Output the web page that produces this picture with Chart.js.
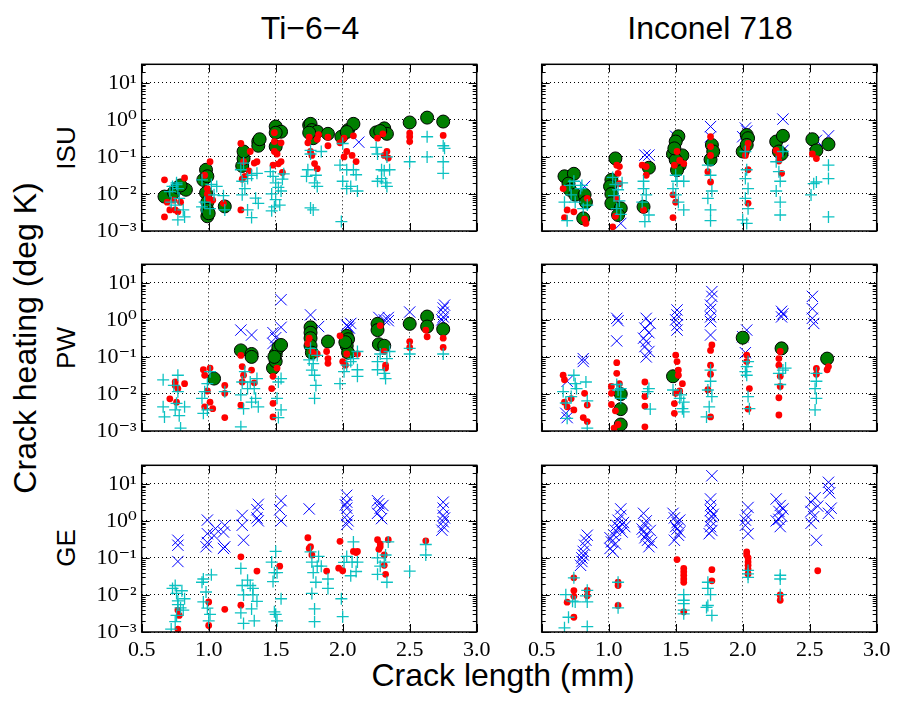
<!DOCTYPE html>
<html>
<head>
<meta charset="utf-8">
<script src="https://cdn.jsdelivr.net/npm/chart.js@4.4.0/dist/chart.umd.min.js"></script>
<style>
  html, body { margin: 0; padding: 0; background: #fff; }
  #fig { position: relative; width: 897px; height: 701px; overflow: hidden; font-family: "Liberation Sans", Arial, sans-serif; color: #000; }
  #fig canvas { position: absolute; }
  .lbl { position: absolute; white-space: nowrap; transform: translate(-50%, -50%); line-height: 1; }
  .rot { transform: translate(-50%, -50%) rotate(-90deg); }
</style>
</head>
<body>
<div id="fig">
  <div class="lbl" style="left:310px; top:28px; font-size:32px;">Ti−6−4</div>
  <div class="lbl" style="left:710px; top:28px; font-size:32px;">Inconel 718</div>
  <div class="lbl rot" style="left:25px; top:338px; font-size:32px;">Crack heating (deg K)</div>
  <div class="lbl" style="left:503px; top:675px; font-size:32px;">Crack length (mm)</div>
  <div class="lbl rot" style="left:66px; top:148px; font-size:26px;">ISU</div>
  <div class="lbl rot" style="left:66px; top:348px; font-size:26px;">PW</div>
  <div class="lbl rot" style="left:66px; top:548px; font-size:26px;">GE</div>
</div>
<script>
// axis ticks
const xTicks = [0.5, 1.0, 1.5, 2.0, 2.5, 3.0]
const yTickValues = [1e-3, 1e-2, 1e-1, 1, 10]
const yTickLabels = ["10⁻³", "10⁻²", "10⁻¹", "10⁰", "10¹"]

// Ti-6-4 / ISU
const tiIsuGreen = [[0.67,0.0085],[0.74,0.011],[0.77,0.015],[0.83,0.013],[0.79,0.017],[0.96,0.024],[0.98,0.045],[0.99,0.03],[0.98,0.0107],[0.99,0.006],[0.99,0.0037],[0.99,0.0025],[1.0,0.003],[1.12,0.0046],[1.25,0.057],[1.26,0.09],[1.26,0.14],[1.37,0.26],[1.37,0.2],[1.38,0.3],[1.5,0.66],[1.54,0.48],[1.5,0.19],[1.5,0.45],[1.75,0.72],[1.76,0.78],[1.77,0.53],[1.81,0.48],[1.78,0.32],[1.75,0.45],[1.89,0.42],[1.99,0.35],[2.04,0.53],[2.08,0.78],[2.03,0.47],[2.25,0.46],[2.31,0.59],[2.33,0.42],[2.28,0.5],[2.5,0.85],[2.63,1.15],[2.75,0.9]]
const tiIsuRed = [[0.67,0.024],[0.67,0.0024],[0.69,0.006],[0.71,0.0037],[0.74,0.0068],[0.75,0.0037],[0.77,0.0033],[0.82,0.027],[0.79,0.006],[1.01,0.074],[0.97,0.032],[0.99,0.014],[1.0,0.0075],[1.03,0.0068],[0.99,0.01],[1.11,0.0056],[1.24,0.23],[1.25,0.025],[1.26,0.074],[1.27,0.03],[1.24,0.0037],[1.31,0.14],[1.34,0.068],[1.3,0.042],[1.36,0.074],[1.49,0.45],[1.49,0.26],[1.51,0.12],[1.52,0.065],[1.48,0.06],[1.54,0.24],[1.54,0.075],[1.49,0.14],[1.55,0.038],[1.74,0.24],[1.75,0.34],[1.77,0.11],[1.79,0.066],[1.81,0.048],[1.81,0.3],[1.82,0.4],[1.89,0.34],[1.89,0.2],[1.76,0.14],[1.98,0.24],[2.01,0.32],[2.03,0.14],[2.07,0.11],[2.1,0.075],[2.08,0.37],[2.01,0.1],[2.26,0.32],[2.3,0.42],[2.33,0.14],[2.34,0.093],[2.31,0.11],[2.5,0.35],[2.5,0.26],[2.5,0.44],[2.75,0.38]]
const tiIsuCyan = [[0.71,0.0116],[0.73,0.016],[0.76,0.018],[0.77,0.014],[0.78,0.0076],[0.77,0.002],[0.82,0.0024],[0.81,0.0037],[0.75,0.005],[0.72,0.006],[0.76,0.02],[0.95,0.0045],[0.97,0.006],[1.01,0.004],[1.02,0.018],[1.04,0.0095],[1.06,0.016],[0.95,0.024],[1.11,0.009],[1.12,0.0037],[1.24,0.045],[1.26,0.068],[1.25,0.0095],[1.27,0.014],[1.29,0.026],[1.32,0.032],[1.36,0.036],[1.37,0.0056],[1.35,0.0077],[1.32,0.0023],[1.29,0.0037],[1.25,0.022],[1.46,0.04],[1.48,0.03],[1.5,0.02],[1.52,0.015],[1.47,0.01],[1.5,0.007],[1.53,0.005],[1.47,0.0035],[1.55,0.025],[1.54,0.012],[1.56,0.035],[1.49,0.0045],[1.74,0.045],[1.76,0.12],[1.79,0.02],[1.81,0.016],[1.8,0.032],[1.84,0.14],[1.76,0.0042],[1.78,0.0037],[1.76,0.15],[1.73,0.03],[2.0,0.23],[1.98,0.06],[2.03,0.045],[2.0,0.022],[2.03,0.014],[2.06,0.016],[2.11,0.012],[2.1,0.033],[1.99,0.0018],[2.08,0.045],[2.25,0.18],[2.26,0.12],[2.29,0.045],[2.29,0.026],[2.31,0.042],[2.33,0.1],[2.35,0.045],[2.33,0.016],[2.26,0.022],[2.32,0.02],[2.5,0.074],[2.63,0.35],[2.63,0.1],[2.75,0.2],[2.75,0.074],[2.75,0.036],[2.76,0.17]]
const tiIsuBlue = [[2.12,0.25],[1.76,0.75]]

// Inconel 718 / ISU
const inIsuGreen = [[0.67,0.03],[0.74,0.035],[0.7,0.019],[0.71,0.013],[0.75,0.0095],[0.82,0.0095],[0.83,0.006],[0.81,0.0022],[1.05,0.091],[1.02,0.024],[1.01,0.016],[1.02,0.01],[1.02,0.0056],[1.09,0.0041],[1.07,0.0027],[1.3,0.051],[1.26,0.0045],[1.52,0.36],[1.5,0.26],[1.55,0.11],[1.48,0.12],[1.53,0.06],[1.51,0.044],[1.5,0.083],[1.49,0.17],[1.77,0.21],[1.76,0.085],[1.78,0.14],[2.03,0.39],[2.04,0.32],[2.0,0.14],[2.03,0.21],[2.25,0.26],[2.3,0.37],[2.29,0.12],[2.27,0.14],[2.52,0.3],[2.55,0.15],[2.64,0.22]]
const inIsuRed = [[0.69,0.0037],[0.67,0.0023],[0.74,0.0033],[0.82,0.0021],[0.83,0.0016],[0.66,0.014],[0.84,0.0076],[1.06,0.06],[1.08,0.055],[1.07,0.036],[1.08,0.019],[1.06,0.0076],[1.05,0.0025],[1.03,0.0013],[1.25,0.06],[1.28,0.055],[1.28,0.032],[1.26,0.0037],[1.51,0.14],[1.53,0.08],[1.56,0.066],[1.49,0.06],[1.48,0.0095],[1.48,0.0023],[1.5,0.006],[1.76,0.35],[1.76,0.19],[1.76,0.11],[1.74,0.04],[1.76,0.021],[2.04,0.23],[2.03,0.17],[2.04,0.045],[2.04,0.0056],[2.02,0.11],[2.25,0.15],[2.27,0.077],[2.29,0.036],[2.27,0.11],[2.52,0.12],[2.55,0.09]]
const inIsuCyan = [[0.67,0.006],[0.69,0.0019],[0.71,0.017],[0.72,0.0094],[0.75,0.006],[0.79,0.014],[0.8,0.017],[0.81,0.004],[0.84,0.005],[0.74,0.022],[1.03,0.028],[1.05,0.018],[1.07,0.013],[1.04,0.009],[1.08,0.0065],[1.06,0.004],[1.09,0.0028],[1.1,0.02],[1.26,0.014],[1.28,0.0095],[1.25,0.006],[1.3,0.0027],[1.27,0.0018],[1.26,0.022],[1.48,0.014],[1.51,0.022],[1.5,0.0094],[1.52,0.006],[1.56,0.022],[1.56,0.0037],[1.5,0.032],[1.74,0.06],[1.76,0.032],[1.77,0.012],[1.74,0.0076],[1.76,0.0037],[1.76,0.0019],[2.02,0.14],[2.03,0.045],[2.02,0.026],[2.04,0.014],[2.02,0.0076],[2.04,0.004],[2.0,0.002],[2.03,0.0016],[2.25,0.074],[2.27,0.04],[2.28,0.022],[2.25,0.012],[2.28,0.006],[2.28,0.0027],[2.3,0.14],[2.53,0.019],[2.51,0.0094],[2.64,0.06],[2.64,0.026],[2.64,0.0024],[2.55,0.021]]
const inIsuBlue = [[0.82,0.016],[1.09,0.0016],[1.27,0.112],[1.3,0.112],[1.5,0.36],[1.76,0.66],[1.76,0.35],[2.02,0.6],[2.0,0.35],[2.03,0.5],[2.3,1.05],[2.3,0.15],[2.55,0.28],[2.64,0.37]]

// Ti-6-4 / PW
const tiPwGreen = [[1.04,0.026],[1.24,0.15],[1.32,0.12],[1.32,0.1],[1.48,0.05],[1.5,0.076],[1.5,0.12],[1.52,0.18],[1.54,0.21],[1.49,0.1],[1.76,0.63],[1.76,0.45],[1.76,0.32],[1.76,0.2],[1.77,0.13],[1.89,0.26],[2.03,0.37],[2.04,0.3],[2.03,0.2],[2.04,0.13],[2.02,0.25],[2.26,0.78],[2.26,0.53],[2.27,0.22],[2.31,0.2],[2.5,0.78],[2.63,1.23],[2.63,0.66],[2.75,0.56]]
const tiPwRed = [[0.71,0.0074],[0.75,0.021],[0.75,0.017],[0.82,0.019],[0.76,0.006],[0.77,0.014],[0.96,0.045],[0.97,0.032],[1.01,0.05],[0.99,0.012],[0.97,0.0045],[1.03,0.004],[1.01,0.006],[1.12,0.017],[1.12,0.0104],[1.12,0.0023],[1.24,0.11],[1.25,0.055],[1.26,0.032],[1.24,0.005],[1.25,0.021],[1.32,0.044],[1.34,0.02],[1.48,0.03],[1.47,0.014],[1.48,0.0056],[1.48,0.0024],[1.51,0.05],[1.75,0.32],[1.74,0.23],[1.77,0.14],[1.81,0.12],[1.88,0.14],[1.89,0.09],[1.89,0.067],[1.98,0.37],[2.0,0.075],[2.02,0.06],[2.03,0.12],[2.11,0.12],[2.28,0.7],[2.31,0.14],[2.32,0.06],[2.32,0.05],[2.5,0.26],[2.5,0.18],[2.62,0.53],[2.63,0.35],[2.75,0.32],[2.75,0.18]]
const tiPwCyan = [[0.66,0.024],[0.66,0.0045],[0.67,0.0024],[0.74,0.017],[0.77,0.032],[0.77,0.0115],[0.76,0.0056],[0.78,0.0026],[0.79,0.0012],[0.82,0.0045],[0.75,0.0037],[0.95,0.0076],[0.97,0.0115],[0.99,0.019],[1.01,0.04],[0.99,0.0037],[0.96,0.003],[1.12,0.0115],[1.24,0.0094],[1.25,0.021],[1.26,0.004],[1.27,0.04],[1.24,0.0013],[1.29,0.014],[1.31,0.021],[1.34,0.014],[1.36,0.026],[1.35,0.0076],[1.37,0.0045],[1.32,0.006],[1.52,0.021],[1.54,0.026],[1.51,0.0076],[1.54,0.0037],[1.52,0.0023],[1.75,0.083],[1.78,0.066],[1.77,0.044],[1.79,0.032],[1.8,0.017],[1.79,0.0076],[1.81,0.11],[1.76,0.17],[1.98,0.019],[2.01,0.04],[2.03,0.06],[2.06,0.075],[2.08,0.09],[2.11,0.045],[2.11,0.03],[2.11,0.14],[2.26,0.075],[2.26,0.045],[2.28,0.12],[2.31,0.036],[2.32,0.026],[2.33,0.09],[2.35,0.14],[2.5,0.17],[2.5,0.12],[2.75,0.12]]
const tiPwBlue = [[1.24,0.53],[1.32,0.39],[1.48,0.45],[1.5,0.33],[1.54,0.63],[1.54,3.5],[1.48,0.23],[1.76,1.36],[1.82,0.66],[2.03,0.72],[2.04,0.65],[2.05,0.6],[2.06,0.8],[2.27,1.16],[2.31,1.0],[2.34,1.16],[2.34,0.95],[2.5,1.63],[2.75,2.1],[2.75,1.6],[2.75,1.2],[2.75,0.9],[2.74,1.0],[2.76,2.5]]

// Inconel 718 / PW
const inPwGreen = [[1.09,0.0099],[1.09,0.0039],[1.09,0.0015],[1.48,0.03],[2.0,0.33],[2.29,0.17],[2.63,0.09]]
const inPwRed = [[0.66,0.032],[0.67,0.024],[0.67,0.006],[0.69,0.0045],[0.72,0.0075],[0.74,0.0037],[0.81,0.0023],[0.82,0.0104],[0.84,0.005],[0.84,0.0018],[1.06,0.07],[1.06,0.036],[1.08,0.019],[1.02,0.016],[1.02,0.0104],[1.02,0.0052],[1.05,0.0035],[1.04,0.0012],[1.07,0.0015],[1.27,0.021],[1.27,0.0085],[1.27,0.0047],[1.27,0.0013],[1.5,0.112],[1.51,0.075],[1.52,0.044],[1.52,0.032],[1.5,0.0104],[1.49,0.0055],[1.49,0.003],[1.55,0.019],[1.53,0.012],[1.77,0.21],[1.76,0.15],[1.76,0.06],[1.76,0.034],[1.74,0.013],[1.76,0.0024],[2.03,0.112],[2.03,0.075],[2.05,0.014],[2.04,0.0039],[2.28,0.14],[2.27,0.09],[2.27,0.06],[2.28,0.03],[2.28,0.016],[2.27,0.0079],[2.27,0.0027],[2.55,0.049],[2.55,0.034],[2.64,0.055],[2.63,0.045]]
const inPwCyan = [[0.66,0.0116],[0.68,0.0057],[0.69,0.0022],[0.74,0.032],[0.75,0.019],[0.76,0.014],[0.83,0.021],[0.84,0.0065],[0.84,0.0012],[0.72,0.0085],[1.06,0.018],[1.07,0.0128],[1.09,0.0076],[1.09,0.014],[1.3,0.014],[1.31,0.0039],[1.29,0.0115],[1.48,0.0128],[1.54,0.0094],[1.56,0.006],[1.55,0.004],[1.56,0.0033],[1.53,0.0076],[1.74,0.0128],[1.76,0.022],[1.76,0.044],[1.77,0.0085],[1.75,0.0045],[1.73,0.0024],[2.04,0.075],[2.03,0.055],[2.02,0.04],[2.04,0.0085],[2.05,0.004],[2.03,0.032],[2.27,0.036],[2.3,0.044],[2.32,0.05],[2.28,0.018],[2.55,0.036],[2.54,0.014],[2.55,0.0076],[2.54,0.0037],[2.55,0.022]]
const inPwBlue = [[0.81,0.09],[0.81,0.075],[0.69,0.022],[0.69,0.0023],[0.68,0.003],[1.06,1.1],[1.07,0.95],[1.06,0.27],[1.28,1.1],[1.27,0.6],[1.3,0.45],[1.28,0.26],[1.27,0.19],[1.3,0.14],[1.28,0.1],[1.26,0.32],[1.31,0.8],[1.51,1.85],[1.51,1.36],[1.5,1.0],[1.51,0.72],[1.51,0.53],[1.77,5.8],[1.77,4.3],[1.76,2.5],[1.76,1.9],[1.76,1.2],[1.76,0.9],[1.76,0.39],[2.03,0.53],[2.0,0.35],[2.02,0.13],[2.29,1.7],[2.29,1.2],[2.3,1.45],[2.52,4.3],[2.52,2.0],[2.52,1.1],[2.53,0.8]]

// Ti-6-4 / GE
const tiGeGreen = []
const tiGeRed = [[0.77,0.0039],[0.78,0.0028],[0.77,0.0012],[1.0,0.0065],[1.0,0.0015],[1.12,0.0041],[1.24,0.107],[1.24,0.0053],[1.36,0.044],[1.53,0.06],[1.74,0.35],[1.75,0.18],[1.76,0.2],[1.77,0.12],[1.88,0.044],[1.98,0.28],[1.97,0.053],[2.0,0.045],[2.08,0.15],[2.11,0.15],[2.1,0.14],[2.26,0.31],[2.28,0.24],[2.28,0.2],[2.31,0.12],[2.31,0.063],[2.32,0.036],[2.34,0.31],[2.27,0.17],[2.62,0.29]]
const tiGeCyan = [[0.73,0.015],[0.75,0.018],[0.76,0.011],[0.77,0.0069],[0.79,0.0045],[0.76,0.0028],[0.75,0.0019],[0.8,0.013],[0.82,0.0079],[0.81,0.0039],[0.72,0.0012],[0.77,0.0055],[0.95,0.022],[0.98,0.012],[0.96,0.0065],[0.99,0.0044],[1.01,0.003],[1.0,0.002],[1.02,0.035],[0.96,0.027],[1.24,0.052],[1.25,0.018],[1.26,0.01],[1.24,0.0033],[1.26,0.0017],[1.29,0.025],[1.31,0.018],[1.33,0.015],[1.33,0.01],[1.32,0.0042],[1.34,0.002],[1.36,0.0067],[1.47,0.077],[1.5,0.15],[1.49,0.04],[1.48,0.023],[1.49,0.0035],[1.5,0.003],[1.51,0.002],[1.54,0.0079],[1.51,0.04],[1.76,0.146],[1.77,0.077],[1.78,0.04],[1.8,0.022],[1.81,0.06],[1.82,0.11],[1.79,0.0042],[1.77,0.011],[1.79,0.0019],[1.84,0.06],[1.89,0.027],[1.89,0.015],[1.99,0.0079],[2.0,0.0026],[2.01,0.076],[2.03,0.11],[2.06,0.033],[2.08,0.27],[2.11,0.077],[2.1,0.043],[2.07,0.077],[2.26,0.1],[2.26,0.036],[2.28,0.06],[2.31,0.077],[2.33,0.022],[2.34,0.27],[2.32,0.12],[2.5,0.044],[2.62,0.12],[2.62,0.23]]
const tiGeBlue = [[0.77,0.3],[0.77,0.22],[0.77,0.08],[0.99,1.05],[0.99,0.45],[0.99,0.26],[0.98,0.2],[1.05,0.62],[1.04,0.4],[1.12,0.76],[1.11,0.5],[1.12,0.2],[1.11,0.18],[1.25,1.4],[1.25,0.76],[1.26,0.3],[1.37,2.8],[1.36,2.0],[1.37,1.0],[1.36,1.2],[1.54,3.5],[1.53,2.0],[1.54,1.0],[1.75,2.1],[2.03,4.9],[2.03,3.2],[2.03,2.2],[2.03,1.4],[2.04,1.0],[2.03,0.8],[2.02,2.7],[2.26,3.5],[2.27,2.9],[2.28,2.2],[2.26,1.6],[2.29,1.15],[2.3,2.6],[2.75,3.2],[2.75,2.2],[2.75,1.4],[2.75,0.95],[2.75,0.7],[2.74,0.56],[2.76,1.2]]

// Inconel 718 / GE
const inGeGreen = []
const inGeRed = [[0.69,0.0064],[0.74,0.029],[0.74,0.0131],[0.74,0.0092],[0.74,0.0025],[0.84,0.0133],[0.84,0.0095],[1.07,0.022],[1.07,0.018],[1.07,0.0052],[1.51,0.09],[1.56,0.052],[1.56,0.042],[1.56,0.034],[1.56,0.027],[1.56,0.022],[1.56,0.0035],[1.77,0.048],[1.77,0.024],[2.03,0.145],[2.03,0.12],[2.04,0.1],[2.04,0.078],[2.04,0.063],[2.04,0.05],[2.04,0.037],[2.28,0.01],[2.28,0.0072],[2.56,0.045]]
const inGeCyan = [[0.67,0.0013],[0.68,0.0102],[0.7,0.0025],[0.73,0.0068],[0.74,0.029],[0.75,0.0065],[0.84,0.0133],[0.84,0.0065],[0.84,0.0014],[0.83,0.0095],[1.07,0.022],[1.07,0.0045],[1.56,0.0102],[1.56,0.0072],[1.56,0.0058],[1.56,0.0039],[1.56,0.0031],[1.74,0.022],[1.74,0.015],[1.76,0.0102],[1.74,0.0052],[1.77,0.0028],[1.73,0.0046],[2.04,0.046],[2.04,0.037],[2.04,0.03],[2.28,0.034],[2.28,0.027],[2.28,0.0102]]
const inGeBlue = [[0.79,0.063],[0.8,0.1],[0.81,0.15],[0.82,0.22],[0.83,0.3],[0.84,0.41],[0.81,0.12],[0.8,0.08],[1.01,0.18],[1.02,0.27],[1.04,0.41],[1.05,0.56],[1.06,0.76],[1.07,1.04],[1.09,1.4],[1.09,2.1],[1.11,0.9],[1.1,0.5],[1.03,0.15],[1.01,0.35],[1.05,0.24],[1.12,0.7],[1.08,0.65],[1.26,1.6],[1.28,1.0],[1.27,0.8],[1.26,0.5],[1.28,0.42],[1.3,0.2],[1.29,0.3],[1.31,0.55],[1.32,0.26],[1.25,0.6],[1.27,0.35],[1.48,1.6],[1.49,1.2],[1.51,0.9],[1.5,0.7],[1.52,0.41],[1.53,0.5],[1.49,0.3],[1.53,1.05],[1.51,0.6],[1.77,16.5],[1.76,3.9],[1.76,2.6],[1.76,1.9],[1.77,1.3],[1.76,1.0],[1.76,0.7],[1.75,0.45],[1.78,1.5],[1.77,0.55],[2.04,2.3],[2.03,1.4],[2.02,0.76],[2.04,0.45],[2.02,1.05],[2.25,3.9],[2.28,2.6],[2.27,1.8],[2.29,1.35],[2.25,1.0],[2.28,0.7],[2.3,2.1],[2.27,1.1],[2.51,3.2],[2.54,4.2],[2.51,1.8],[2.53,1.3],[2.51,0.86],[2.55,0.3],[2.56,2.5],[2.64,11],[2.64,7.5],[2.65,5.7],[2.64,1.6],[2.66,2.2]]

// layout of the 3x2 grid (page px)
const colLeft = [40, 440]
const rowTop = [52, 252, 453]
const AXIS_W = 101.7
const PLOT_W = 335
const PLOT_H = 166.7
const PAD_TOP = 12.3
const CANVAS_W = 457
const CANVAS_H = 224

const panels = [
  { row: 0, col: 0, green: tiIsuGreen, red: tiIsuRed, cyan: tiIsuCyan, blue: tiIsuBlue },
  { row: 0, col: 1, green: inIsuGreen, red: inIsuRed, cyan: inIsuCyan, blue: inIsuBlue },
  { row: 1, col: 0, green: tiPwGreen, red: tiPwRed, cyan: tiPwCyan, blue: tiPwBlue },
  { row: 1, col: 1, green: inPwGreen, red: inPwRed, cyan: inPwCyan, blue: inPwBlue },
  { row: 2, col: 0, green: tiGeGreen, red: tiGeRed, cyan: tiGeCyan, blue: tiGeBlue },
  { row: 2, col: 1, green: inGeGreen, red: inGeRed, cyan: inGeCyan, blue: inGeBlue }
]

const isDecade = v => Math.abs(Math.log10(v) - Math.round(Math.log10(v))) < 1e-9
const toPts = arr => arr.map(p => ({ x: p[0], y: p[1] }))
const tickFont = { family: "'Liberation Serif', 'DejaVu Serif', serif", size: 22 }

// box round the axes plus inward tick marks, like the matplotlib frame
const framePlugin = {
  id: "frame",
  afterDraw(chart) {
    const { ctx, chartArea: a, scales: { x, y } } = chart
    ctx.save()
    ctx.strokeStyle = "#000"
    ctx.lineWidth = 1
    ctx.beginPath()
    y.ticks.forEach(t => {
      const sig = t.value / Math.pow(10, Math.floor(Math.log10(t.value) + 1e-9))
      if (Math.abs(sig - Math.round(sig)) > 1e-6) return
      const py = Math.round(y.getPixelForValue(t.value)) + 0.5
      const len = isDecade(t.value) ? 8 : 4
      ctx.moveTo(a.left, py); ctx.lineTo(a.left + len, py)
      ctx.moveTo(a.right, py); ctx.lineTo(a.right - len, py)
    })
    xTicks.forEach(v => {
      const px = Math.round(x.getPixelForValue(v)) + 0.5
      ctx.moveTo(px, a.bottom); ctx.lineTo(px, a.bottom - 8)
      ctx.moveTo(px, a.top); ctx.lineTo(px, a.top + 8)
    })
    ctx.stroke()
    ctx.lineWidth = 1.5
    ctx.strokeRect(a.left, a.top, a.right - a.left, a.bottom - a.top)
    ctx.restore()
  }
}

const fig = document.getElementById("fig")

panels.forEach(p => {
  const canvas = document.createElement("canvas")
  canvas.width = CANVAS_W
  canvas.height = CANVAS_H
  canvas.style.left = colLeft[p.col] + "px"
  canvas.style.top = rowTop[p.row] + "px"
  fig.appendChild(canvas)

  const showY = p.col === 0
  const showX = p.row === 2

  new Chart(canvas, {
    type: "scatter",
    data: {
      datasets: [
        {
          data: toPts(p.cyan),
          pointStyle: "cross",
          pointRadius: 6,
          pointBorderColor: "rgba(0,191,191,0.95)",
          pointBackgroundColor: "rgba(0,191,191,0.95)",
          pointBorderWidth: 1.3
        },
        {
          data: toPts(p.red),
          pointStyle: "circle",
          pointRadius: 3.4,
          pointBackgroundColor: "#ff0000",
          pointBorderColor: "#ff0000",
          pointBorderWidth: 0
        },
        {
          data: toPts(p.green),
          pointStyle: "circle",
          pointRadius: 6.5,
          pointBackgroundColor: "#007f00",
          pointBorderColor: "#000",
          pointBorderWidth: 1
        },
        {
          data: toPts(p.blue),
          pointStyle: "crossRot",
          pointRadius: 8,
          pointBorderColor: "#0000ff",
          pointBackgroundColor: "#0000ff",
          pointBorderWidth: 1
        }
      ]
    },
    options: {
      responsive: false,
      animation: false,
      events: [],
      layout: { padding: { top: PAD_TOP, right: CANVAS_W - AXIS_W - PLOT_W, left: 0, bottom: 0 } },
      plugins: { legend: { display: false }, tooltip: { enabled: false } },
      scales: {
        x: {
          type: "linear",
          min: 0.5,
          max: 3.0,
          afterFit: s => {
            s.height = CANVAS_H - PAD_TOP - PLOT_H
            s.paddingLeft = 0; s.paddingRight = 0
          },
          ticks: {
            display: showX,
            stepSize: 0.5,
            padding: 5,
            color: "#000",
            font: tickFont,
            maxRotation: 0,
            callback: v => v.toFixed(1)
          },
          grid: { drawTicks: false, color: "#000", lineWidth: 1 },
          border: { display: false, dash: [1, 3] }
        },
        y: {
          type: "logarithmic",
          min: 1e-3,
          max: Math.pow(10, 1.5),
          afterFit: s => {
            s.width = AXIS_W
            s.paddingTop = 0; s.paddingBottom = 0
          },
          ticks: {
            autoSkip: false,
            padding: 5,
            color: "#000",
            font: tickFont,
            callback: v => {
              if (!showY) return ""
              const i = yTickValues.findIndex(t => Math.abs(t - v) / t < 1e-9)
              return i >= 0 ? yTickLabels[i] : ""
            }
          },
          grid: {
            drawTicks: false,
            lineWidth: 1,
            color: c => (c.tick && isDecade(c.tick.value) ? "#000" : "rgba(0,0,0,0)")
          },
          border: { display: false, dash: [1, 3] }
        }
      }
    },
    plugins: [framePlugin]
  })
})
</script>
</body>
</html>
